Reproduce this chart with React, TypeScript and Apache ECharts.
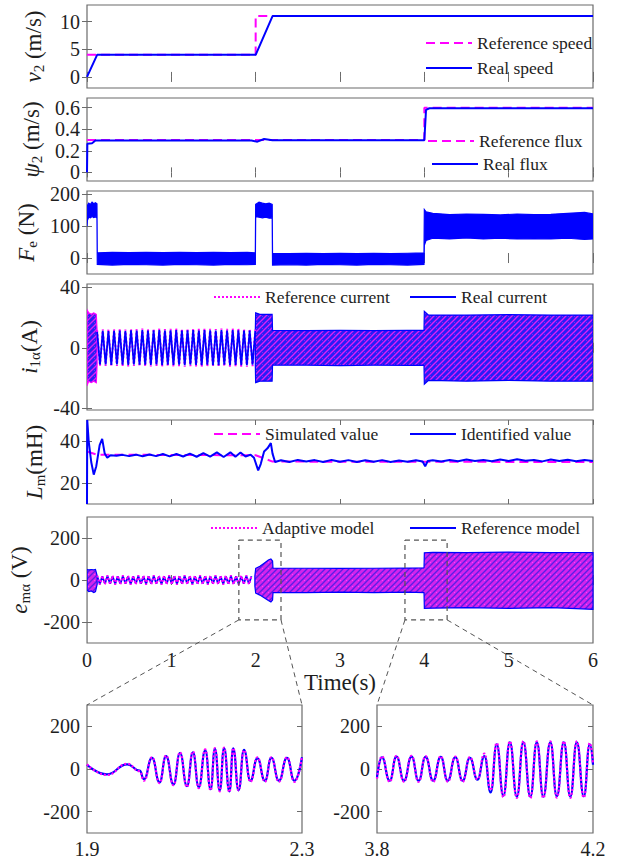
import React, { useEffect, useRef } from 'react';
import * as echarts from 'echarts';

const FONT = '"Liberation Serif", "Times New Roman", serif';
const BLUE = '#0000ff';
const MAGENTA = '#ff00ff';
const FRAME = '#6b6b6b';
const TEXT = '#1e1e1e';

// ---------------- data ----------------
// Panel 1: speed
const refSpeed = [[0, 4], [2, 4], [2, 11], [6, 11]];
const realSpeed = [[0, 0], [0.12, 4], [2, 4], [2.2, 11], [6, 11]];

// Panel 2: flux
const refFlux = [[0, 0.3], [4, 0.3], [4, 0.6], [6, 0.6]];
const realFlux = [[0, 0], [0.004, 0.265], [0.06, 0.27], [0.1, 0.295], [1.95, 0.295], [2.02, 0.285], [2.1, 0.31], [2.2, 0.298], [4.0, 0.298], [4.02, 0.58], [4.06, 0.595], [6, 0.595]];

// Panel 3: thrust envelope [t, low, high]
const feBand = [
  [0, 100, 140], [0.005, 118, 165], [0.02, 128, 172], [0.04, 126, 168], [0.06, 130, 175], [0.08, 127, 170], [0.1, 129, 173], [0.118, 125, 170],
  [0.122, -20, 16], [0.3, -22, 18], [0.5, -20, 17], [0.7, -21, 18], [0.9, -22, 17], [1.1, -20, 18], [1.3, -21, 17], [1.5, -22, 18], [1.7, -20, 17], [1.9, -21, 18], [1.996, -20, 16],
  [2.0, 130, 168], [2.04, 128, 175], [2.08, 126, 172], [2.12, 128, 170], [2.16, 125, 172], [2.196, 126, 168],
  [2.2, -22, 15], [2.4, -21, 14], [2.6, -22, 15], [2.8, -20, 14], [3.0, -21, 15], [3.2, -22, 14], [3.4, -20, 15], [3.6, -21, 14], [3.8, -22, 15], [3.996, -20, 16],
  [4.0, 40, 152], [4.02, 55, 145], [4.1, 62, 140], [4.3, 60, 136], [4.5, 63, 138], [4.7, 60, 137], [4.9, 62, 135], [5.1, 60, 138], [5.3, 61, 136], [5.5, 60, 137], [5.7, 62, 140], [5.9, 58, 143], [6.0, 60, 138],
];

// Panel 4: current
const iBand1 = [[0, -25, 25], [0.02, -22, 23], [0.05, -23, 22], [0.08, -22, 23], [0.11, -23, 22], [0.12, -11, 11]];
const iBand2 = [
  [1.996, -12, 12], [2.0, -23, 23], [2.05, -22, 22], [2.1, -22, 22], [2.15, -22, 22], [2.195, -22, 22],
  [2.2, -11.5, 11.5], [2.6, -11.5, 11.3], [3.0, -11.8, 11.5], [3.4, -11.5, 11.3], [3.8, -11.6, 11.5], [3.996, -11.5, 11.5],
  [4.0, -24, 24], [4.05, -21.5, 21.5], [4.5, -22, 21.5], [5.0, -21.5, 21.8], [5.5, -22, 21.5], [6.0, -22, 21.5],
];
const iZigT = [
  0.12, 0.154, 0.187, 0.221, 0.254, 0.288, 0.321, 0.355, 0.388, 0.422,
  0.455, 0.489, 0.522, 0.556, 0.589, 0.623, 0.656, 0.69, 0.723, 0.757,
  0.79, 0.824, 0.857, 0.891, 0.924, 0.958, 0.991, 1.025, 1.058, 1.092,
  1.125, 1.159, 1.192, 1.226, 1.259, 1.293, 1.326, 1.36, 1.393, 1.427,
  1.46, 1.494, 1.527, 1.561, 1.594, 1.628, 1.661, 1.695, 1.728, 1.762,
  1.795, 1.829, 1.862, 1.896, 1.929, 1.963, 1.996,
];
const iZigReal = [
  10.5, -11, 11.2, -11, 11, -11.3, 11.2, -11, 11.4, -11.2,
  11, -11.3, 11.5, -11, 11.3, -11.2, 11.6, -11.1, 11.4, -11.3,
  11.5, -11, 11.6, -11.4, 11.3, -11.2, 11.5, -11.3, 11.6, -11.2,
  11.4, -11.5, 11.5, -11.2, 11.6, -11.3, 11.4, -11.5, 11.6, -11.2,
  11.5, -11.4, 11.3, -11.5, 11.6, -11.2, 11.4, -11.5, 11.6, -11.3,
  11.5, -11.4, 11.3, -11.5, 11.4, -11.2, 11,
];
const iZigRef = [
  11.5, -12, 12.2, -12, 12, -12.3, 12.2, -12, 12.4, -12.2,
  12, -12.3, 12.5, -12, 12.3, -12.2, 12.6, -12.1, 12.4, -12.3,
  12.5, -12, 12.6, -12.4, 12.3, -12.2, 12.5, -12.3, 12.6, -12.2,
  12.4, -12.5, 12.5, -12.2, 12.6, -12.3, 12.4, -12.5, 12.6, -12.2,
  12.5, -12.4, 12.3, -12.5, 12.6, -12.2, 12.4, -12.5, 12.6, -12.3,
  12.5, -12.4, 12.3, -12.5, 12.4, -12.2, 12,
];

// Panel 5: magnetizing inductance
const simLm = [[0, 35], [0.12, 33.5], [2.0, 33.2], [2.2, 30.2], [6, 30]];
const idLm = [
  [0, 10], [0.003, 50], [0.02, 40], [0.05, 30], [0.08, 24], [0.11, 28], [0.15, 38], [0.18, 41], [0.21, 34], [0.24, 32],
  [0.28, 33.2], [0.35, 33], [0.42, 33.4], [0.5, 32.8], [0.58, 33.5], [0.66, 32.7], [0.74, 33.6], [0.82, 32.8], [0.9, 33.8], [0.98, 32.7],
  [1.06, 33.8], [1.14, 32.6], [1.22, 34], [1.3, 32.5], [1.38, 34.2], [1.46, 32.6], [1.54, 34.6], [1.62, 32.4], [1.7, 34.6], [1.76, 32.5],
  [1.82, 34.5], [1.88, 32.6], [1.94, 33.5], [1.98, 32], [2.03, 26], [2.06, 29], [2.1, 35], [2.14, 36.5], [2.18, 39], [2.2, 34],
  [2.23, 30], [2.3, 30.8], [2.4, 30], [2.5, 31], [2.6, 30.2], [2.7, 30.9], [2.8, 30], [2.9, 31], [3.0, 30.1], [3.1, 30.9],
  [3.2, 30], [3.3, 30.8], [3.4, 30.1], [3.5, 30.9], [3.6, 30], [3.7, 30.7], [3.8, 30.1], [3.9, 30.8], [3.98, 30.2], [4.01, 28],
  [4.04, 30.5], [4.1, 30.8], [4.2, 30.2], [4.3, 31], [4.4, 30.4], [4.5, 31.2], [4.6, 30.5], [4.7, 31], [4.8, 30.4], [4.9, 31.2],
  [5.0, 30.5], [5.1, 31.3], [5.2, 30.6], [5.3, 31], [5.4, 30.3], [5.5, 31.2], [5.6, 30.5], [5.7, 31.1], [5.8, 30.4], [5.9, 31], [6.0, 30.5],
];

// Panel 6: back EMF
const eBand1 = [[0, -48, 50], [0.02, -55, 48], [0.05, -52, 50], [0.08, -60, 48], [0.1, -55, 50], [0.12, -20, 20]];
const eBand2 = [
  [1.99, -30, 20], [2.0, -62, 55], [2.05, -72, 65], [2.1, -85, 80], [2.15, -98, 95], [2.18, -105, 100], [2.2, -95, 90],
  [2.205, -60, 57], [2.6, -60, 56], [3.0, -58, 55], [3.4, -60, 56], [3.8, -58, 57], [3.996, -60, 58],
  [4.0, -135, 130], [4.1, -134, 132], [4.5, -132, 130], [5.0, -135, 133], [5.5, -132, 130], [5.8, -136, 131], [6.0, -140, 130],
];
const eZigT = [
  0.12, 0.151, 0.181, 0.212, 0.242, 0.273, 0.303, 0.334, 0.364, 0.395,
  0.425, 0.456, 0.486, 0.517, 0.547, 0.578, 0.608, 0.639, 0.669, 0.7,
  0.73, 0.761, 0.791, 0.822, 0.852, 0.883, 0.913, 0.944, 0.974, 1.005,
  1.035, 1.066, 1.096, 1.127, 1.157, 1.188, 1.218, 1.249, 1.279, 1.31,
  1.34, 1.371, 1.401, 1.432, 1.462, 1.493, 1.523, 1.554, 1.584, 1.615,
  1.645, 1.676, 1.706, 1.737, 1.767, 1.798, 1.828, 1.859, 1.889, 1.92,
  1.95,
];
const eZigRef = [
  18, -19, 18, -18, 19, -18, 18, -19, 18, -18,
  19, -18, 18, -19, 18, -18, 19, -18, 18, -19,
  18, -18, 19, -18, 18, -19, 18, -18, 19, -18,
  18, -19, 18, -18, 19, -18, 18, -19, 18, -18,
  19, -18, 18, -19, 18, -18, 19, -18, 18, -19,
  18, -18, 19, -18, 18, -19, 18, -18, 19, -18,
  18,
];
const eZigAdapt = [
  21, -22, 21, -21, 22, -21, 21, -22, 21, -21,
  22, -21, 21, -22, 21, -21, 22, -21, 21, -22,
  21, -21, 22, -21, 21, -22, 21, -21, 22, -21,
  21, -22, 21, -21, 22, -21, 21, -22, 21, -21,
  22, -21, 21, -22, 21, -21, 22, -21, 21, -22,
  21, -21, 22, -21, 21, -22, 21, -21, 22, -21,
  21,
];

// Zoom boxes drawn on panel 6
const box1T = [1.8, 2.3];
const box2T = [3.77, 4.27];
const boxV = [-190, 190];

// Inset 1 (1.9 - 2.3 s)
const z1T = [1.9, 1.937, 1.975, 1.998, 2.006, 2.021, 2.035, 2.047, 2.061, 2.073, 2.086, 2.097, 2.108, 2.12, 2.13, 2.138, 2.147, 2.155, 2.165, 2.172, 2.182, 2.192, 2.204, 2.217, 2.231, 2.243, 2.257, 2.272, 2.286, 2.3];
const z1Ref = [20, -25, 22, -8, -48, 52, -62, 60, -72, 75, -80, 78, -85, 88, -95, 95, -100, 98, -105, 97, -100, 90, -55, 50, -55, 52, -55, 52, -55, 55];
const z1Adapt = [22, -28, 24, -10, -55, 55, -66, 63, -76, 78, -84, 82, -90, 92, -100, 98, -105, 100, -108, 98, -100, 88, -60, 55, -60, 55, -60, 55, -60, 58];

// Inset 2 (3.8 - 4.2 s)
const z2T = [3.8, 3.809, 3.8235, 3.836, 3.85, 3.864, 3.877, 3.89, 3.904, 3.918, 3.931, 3.945, 3.9585, 3.972, 3.986, 3.999, 4.0105, 4.0217, 4.034, 4.046, 4.059, 4.071, 4.084, 4.096, 4.108, 4.121, 4.133, 4.146, 4.158, 4.17, 4.183, 4.194, 4.2];
const z2Ref = [-40, 55, -55, 58, -55, 58, -55, 57, -55, 57, -55, 55, -55, 52, -50, 60, -110, 115, -125, 125, -130, 125, -130, 125, -130, 125, -128, 125, -130, 125, -128, 115, 20];
const z2Adapt = [-45, 60, -60, 62, -60, 62, -60, 60, -60, 60, -60, 58, -60, 56, -48, 72, -100, 122, -132, 130, -136, 130, -136, 130, -136, 130, -134, 130, -136, 130, -134, 122, 25];

// axis ticks
const yTicks = [[0, 5, 10], [0, 0.2, 0.4, 0.6], [0, 100, 200], [-40, 0, 40], [20, 40], [-200, 0, 200], [-200, 0, 200], [-200, 0, 200]];
const yRanges = [[-2, 13], [-0.08, 0.69], [-50, 210], [-41, 42], [10, 50], [-300, 300], [-300, 300], [-300, 300]];
const yNames = [
  '{i|v}{s|2}{n| (m/s)}',
  '{i|ψ}{s|2}{n| (m/s)}',
  '{i|F}{s|e}{n| (N)}',
  '{i|i}{s|1α}{n|(A)}',
  '{i|L}{s|m}{n|(mH)}',
  '{i|e}{s|mα}{n| (V)}',
  '', '',
];

// ---------------- layout ----------------
const grids = [
  { left: 87, top: 5, width: 506, height: 83 },
  { left: 87, top: 98, width: 506, height: 83 },
  { left: 87, top: 191, width: 506, height: 83 },
  { left: 87, top: 284, width: 506, height: 126 },
  { left: 87, top: 420, width: 506, height: 84 },
  { left: 87, top: 517, width: 506, height: 126 },
  { left: 87, top: 705, width: 215, height: 128 },
  { left: 377, top: 705, width: 216, height: 128 },
];
const nameGaps = [41, 43, 39, 38, 40, 41, 0, 0];

const zip = (t: number[], v: number[]) => t.map((x, i) => [x, v[i]]);

function stripePattern(base: string, stripe: string, dot: string) {
  const c = document.createElement('canvas');
  c.width = 6; c.height = 6;
  const g = c.getContext('2d')!;
  g.fillStyle = base; g.fillRect(0, 0, 6, 6);
  g.strokeStyle = stripe; g.lineWidth = 1.3;
  g.beginPath(); g.moveTo(-1, 7); g.lineTo(7, -1); g.stroke();
  g.beginPath(); g.moveTo(-4, 4); g.lineTo(4, -4); g.stroke();
  g.beginPath(); g.moveTo(2, 10); g.lineTo(10, 2); g.stroke();
  g.fillStyle = dot; g.fillRect(4, 4, 1, 1);
  return { image: c.toDataURL(), repeat: 'repeat' };
}

function lineSeries(name: string, data: number[][], gi: number, color: string, type: any, width: number, z: number, smooth = false) {
  return {
    type: 'line', name, data, xAxisIndex: 2 * gi, yAxisIndex: 2 * gi,
    symbol: 'none', showSymbol: false, smooth: smooth ? 0.5 : false, smoothMonotone: smooth ? 'x' : undefined,
    lineStyle: { color, width, type }, itemStyle: { color }, z, clip: true, silent: true,
  };
}

function bandSeries(name: string, data: number[][], gi: number, fill: any, stroke: string, z: number) {
  return {
    type: 'custom', name, data, xAxisIndex: 2 * gi, yAxisIndex: 2 * gi, z, silent: true, clip: true,
    encode: { x: 0, y: [1, 2] },
    renderItem: (params: any, api: any) => {
      if (params.dataIndex !== 0) return null;
      const top = data.map((d) => api.coord([d[0], d[2]]));
      const bot = data.map((d) => api.coord([d[0], d[1]])).reverse();
      return {
        type: 'polygon',
        shape: { points: top.concat(bot) },
        style: { fill, stroke, lineWidth: 1.2 },
      };
    },
  };
}

function boxData(t: number[]) {
  return [[t[0], boxV[1]], [t[1], boxV[1]], [t[1], boxV[0]], [t[0], boxV[0]], [t[0], boxV[1]]];
}

function buildOption() {
  const labelStyle = { fontFamily: FONT, fontSize: 20, lineHeight: 20, color: TEXT };
  const richName = {
    i: { fontFamily: FONT, fontStyle: 'italic', fontSize: 23, color: TEXT, lineHeight: 26 },
    n: { fontFamily: FONT, fontSize: 23, color: TEXT, lineHeight: 26 },
    s: { fontFamily: FONT, fontSize: 15, color: TEXT, verticalAlign: 'bottom' },
  };
  const xAxis: any[] = [];
  const yAxis: any[] = [];
  grids.forEach((g, gi) => {
    const isInset = gi >= 6;
    const xr = gi === 6 ? [1.9, 2.3] : gi === 7 ? [3.8, 4.2] : [0, 6];
    xAxis.push({
      type: 'value', gridIndex: gi, min: xr[0], max: xr[1], position: 'bottom',
      interval: isInset ? undefined : 1,
      axisLine: { show: false },
      axisTick: { show: !isInset, inside: true, length: 5, lineStyle: { color: FRAME, width: 1 } },
      splitLine: { show: false },
      axisLabel: isInset
        ? { show: true, customValues: xr, margin: 6, ...labelStyle }
        : { show: gi === 5, margin: 7, ...labelStyle },
      name: gi === 5 ? 'Time(s)' : '',
      nameLocation: 'middle', nameGap: 28,
      nameTextStyle: { fontFamily: FONT, fontSize: 23, color: TEXT },
    });
    xAxis.push({
      type: 'value', gridIndex: gi, min: xr[0], max: xr[1], position: 'top',
      interval: isInset ? undefined : 1,
      axisLine: { show: false },
      axisTick: { show: !isInset, inside: true, length: 5, lineStyle: { color: FRAME, width: 1 } },
      splitLine: { show: false }, axisLabel: { show: false },
    });
    yAxis.push({
      type: 'value', gridIndex: gi, min: yRanges[gi][0], max: yRanges[gi][1], position: 'left',
      axisLine: { show: false },
      axisTick: { show: true, inside: true, length: 5, customValues: yTicks[gi], lineStyle: { color: FRAME, width: 1 } },
      splitLine: { show: false },
      axisLabel: { show: true, customValues: yTicks[gi], margin: 7, ...labelStyle },
      name: yNames[gi], nameLocation: 'middle', nameGap: nameGaps[gi],
      nameTextStyle: { fontFamily: FONT, fontSize: 23, color: TEXT, rich: richName },
    });
    yAxis.push({
      type: 'value', gridIndex: gi, min: yRanges[gi][0], max: yRanges[gi][1], position: 'right',
      axisLine: { show: false },
      axisTick: { show: true, inside: true, length: 5, customValues: yTicks[gi], lineStyle: { color: FRAME, width: 1 } },
      splitLine: { show: false }, axisLabel: { show: false },
    });
  });

  const dashed = [9, 5];
  const dotted = [2, 2];
  const iFill = stripePattern('#2a1cf6', '#e020f4', '#7a2ef0');
  const eFill = stripePattern('#d224ec', '#5a1ee6', '#ff40ff');
  const series: any[] = [
    lineSeries('Reference speed', refSpeed, 0, MAGENTA, dashed, 2, 3),
    lineSeries('Real speed', realSpeed, 0, BLUE, 'solid', 2, 4),
    lineSeries('Reference flux', refFlux, 1, MAGENTA, dashed, 2, 3),
    lineSeries('Real flux', realFlux, 1, BLUE, 'solid', 2, 4),
    bandSeries('Thrust', feBand, 2, BLUE, BLUE, 3),
    bandSeries('Current band 1', iBand1, 3, iFill, MAGENTA, 2),
    bandSeries('Current band 2', iBand2, 3, iFill, BLUE, 2),
    lineSeries('Reference current', zip(iZigT, iZigRef), 3, MAGENTA, dotted, 2, 3),
    lineSeries('Real current', zip(iZigT, iZigReal), 3, BLUE, 'solid', 1.8, 4),
    lineSeries('Simulated value', simLm, 4, MAGENTA, dashed, 2, 3),
    lineSeries('Identified value', idLm, 4, BLUE, 'solid', 2, 4),
    bandSeries('EMF band 1', eBand1, 5, eFill, BLUE, 2),
    bandSeries('EMF band 2', eBand2, 5, eFill, BLUE, 2),
    lineSeries('Reference model', zip(eZigT, eZigRef), 5, BLUE, 'solid', 1.8, 3),
    lineSeries('Adaptive model', zip(eZigT, eZigAdapt), 5, MAGENTA, dotted, 2, 4),
    lineSeries('Zoom box 1', boxData(box1T), 5, '#555555', [5, 4], 1.2, 6),
    lineSeries('Zoom box 2', boxData(box2T), 5, '#555555', [5, 4], 1.2, 6),
    lineSeries('Inset 1 reference', zip(z1T, z1Ref), 6, BLUE, 'solid', 2.2, 3, true),
    lineSeries('Inset 1 adaptive', zip(z1T, z1Adapt), 6, MAGENTA, dotted, 2.2, 4, true),
    lineSeries('Inset 2 reference', zip(z2T, z2Ref), 7, BLUE, 'solid', 2.2, 3, true),
    lineSeries('Inset 2 adaptive', zip(z2T, z2Adapt), 7, MAGENTA, dotted, 2.2, 4, true),
  ];

  const leg = (name: string, left: number, cy: number) => ({
    data: [name], left, top: cy - 10, orient: 'horizontal', padding: 0, itemGap: 0,
    itemWidth: 46, itemHeight: 12, selectedMode: false,
    itemStyle: { opacity: 0 },
    textStyle: { fontFamily: FONT, fontSize: 17.5, color: TEXT, lineHeight: 20 },
  });

  return {
    animation: false,
    backgroundColor: '#ffffff',
    textStyle: { fontFamily: FONT },
    grid: grids.map((g) => ({ ...g, show: true, borderColor: FRAME, borderWidth: 1.2, backgroundColor: 'transparent', containLabel: false })),
    xAxis, yAxis, series,
    legend: [
      leg('Reference speed', 425, 43),
      leg('Real speed', 425, 68),
      leg('Reference flux', 427, 141),
      leg('Real flux', 431, 164),
      leg('Reference current', 213, 297),
      leg('Real current', 409, 297),
      leg('Simulated value', 213, 434),
      leg('Identified value', 409, 434),
      leg('Adaptive model', 210, 528),
      leg('Reference model', 409, 528),
    ],
  };
}

export default function App() {
  const ref = useRef<HTMLDivElement>(null);
  useEffect(() => {
    document.body.style.margin = '0';
    const chart = echarts.init(ref.current!, null, { renderer: 'svg' });
    chart.setOption(buildOption() as any);
    const px = (ai: number, p: number[]) => chart.convertToPixel({ xAxisIndex: ai, yAxisIndex: ai } as any, p) as unknown as number[];
    const pairs = [
      [px(10, [box1T[0], boxV[0]]), px(12, [1.9, 300])],
      [px(10, [box1T[1], boxV[0]]), px(12, [2.3, 300])],
      [px(10, [box2T[0], boxV[0]]), px(14, [3.8, 300])],
      [px(10, [box2T[1], boxV[0]]), px(14, [4.2, 300])],
    ];
    chart.setOption({
      graphic: pairs.map(([a, b]) => ({
        type: 'line', silent: true, z: 10,
        shape: { x1: a[0], y1: a[1], x2: b[0], y2: b[1] },
        style: { stroke: '#555555', lineWidth: 1, lineDash: [5, 4] },
      })),
    });
    return () => chart.dispose();
  }, []);
  return <div ref={ref} style={{ width: 619, height: 863 }} />;
}
